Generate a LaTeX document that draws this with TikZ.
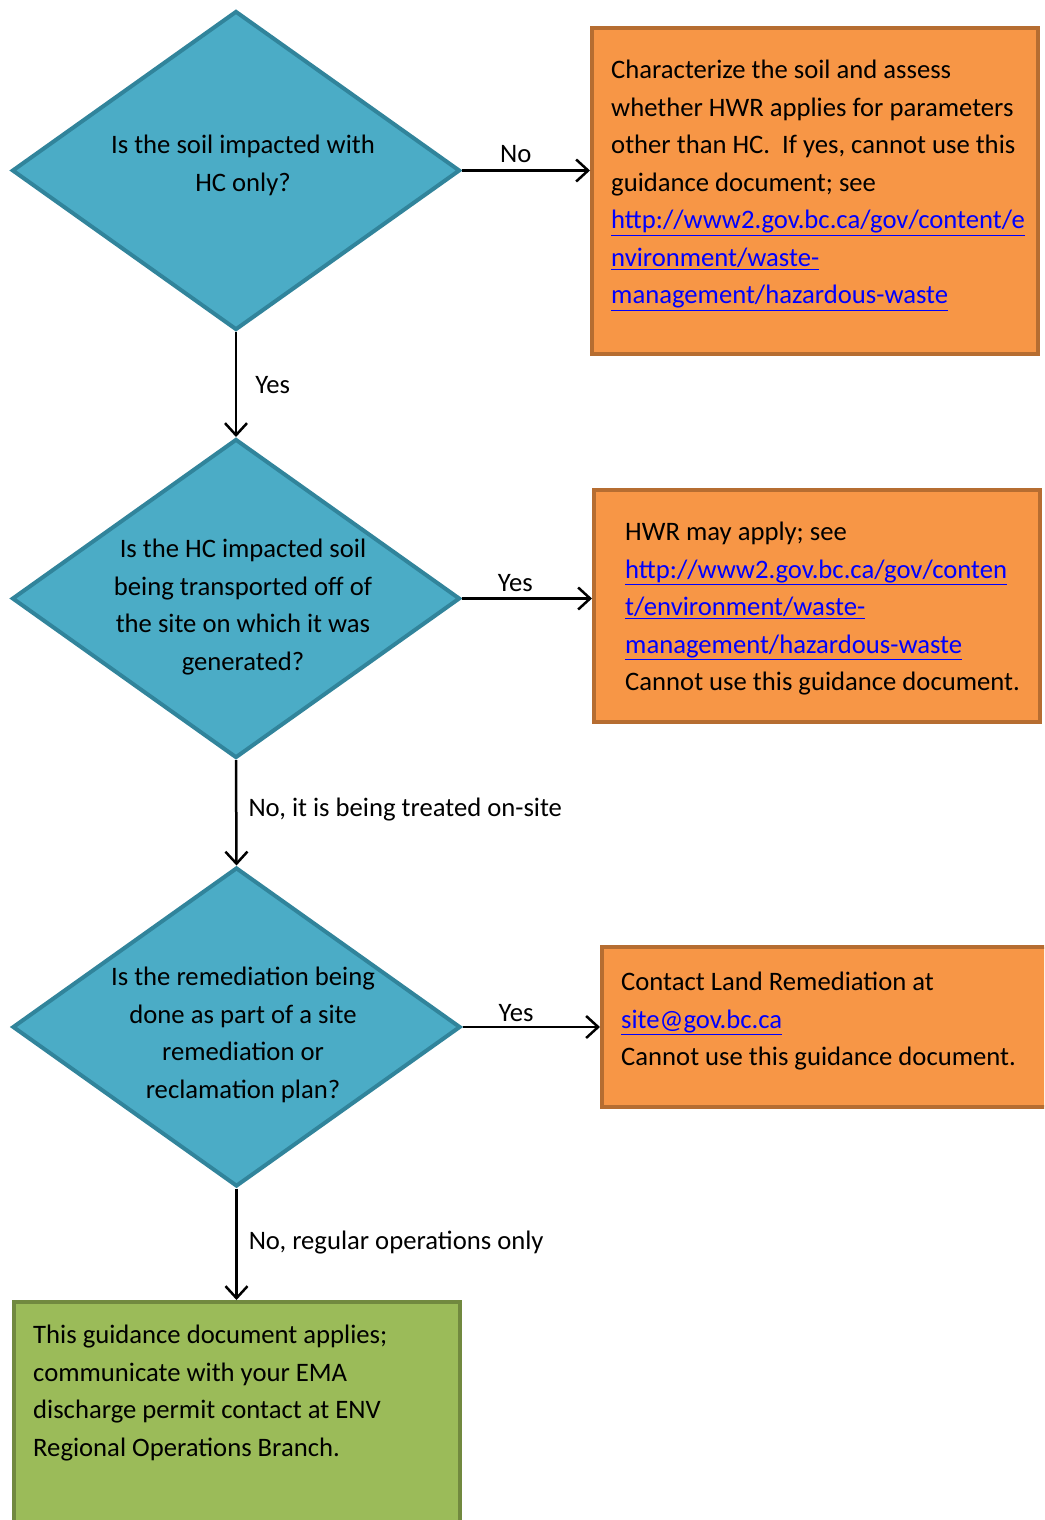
\documentclass[tikz,border=0pt]{standalone}
\usepackage{fontspec}
\setmainfont{Carlito}
\usetikzlibrary{shapes.geometric,arrows.meta}
\definecolor{qfill}{HTML}{4BACC6}
\definecolor{qline}{HTML}{31849B}
\definecolor{ofill}{HTML}{F79646}
\definecolor{oline}{HTML}{B66D31}
\definecolor{gfill}{HTML}{9BBB59}
\definecolor{gline}{HTML}{71893F}
\definecolor{linkblue}{HTML}{0000FF}
\newcommand{\lnk}[1]{\textcolor{linkblue}{\underline{#1}}}
\begin{document}
\begin{tikzpicture}[x=1pt,y=-1pt,>={Straight Barb[length=12pt,width=22pt]},
	font=\fontsize{26.67}{37.5}\selectfont, line join=miter,
	question/.style={diamond,draw=qline,fill=qfill,line width=4pt,inner sep=0pt,minimum width=448pt,minimum height=319pt},
	outbox/.style={rectangle,draw=oline,fill=ofill,line width=4pt,inner sep=0pt,minimum width=446pt},
	okbox/.style={rectangle,draw=gline,fill=gfill,line width=4pt,inner sep=0pt,minimum width=446pt},
	txt/.style={anchor=north west,inner sep=0pt,align=left},
	qtxt/.style={anchor=north,inner sep=0pt,align=center},
	flow/.style={->,line width=2.5pt},
	lbl/.style={inner sep=0pt}]
	\clip (0,0) rectangle (1044,1520);
	% questions
	\node[question] (q1) at (236,170.5) {};
	\node[qtxt] (q1t) at (243,135) {Is the soil impacted with\\HC only?};
	\node[question] (q2) at (236,598.5) {};
	\node[qtxt] (q2t) at (243,539) {Is the HC impacted soil\\being transported off of\\the site on which it was\\generated?};
	\node[question] (q3) at (236.5,1027) {};
	\node[qtxt] (q3t) at (243,967) {Is the remediation being\\done as part of a site\\remediation or\\reclamation plan?};
	% outcomes
	\node[outbox,minimum height=326pt] (a1) at (815,191) {};
	\node[txt] (a1t) at (611,60) {Characterize the soil and assess\\whether HWR applies for parameters\\other than HC.\ \ If yes, cannot use this\\guidance document; see\\\lnk{http://www2.gov.bc.ca/gov/content/e}\\\lnk{nvironment/waste-}\\\lnk{management/hazardous-waste}};
	\node[outbox,minimum height=232pt] (a2) at (817,606) {};
	\node[txt] (a2t) at (625,522) {HWR may apply; see\\\lnk{http://www2.gov.bc.ca/gov/conten}\\\lnk{t/environment/waste-}\\\lnk{management/hazardous-waste}\\Cannot use this guidance document.};
	\node[outbox,minimum height=160pt] (a3) at (825,1027) {};
	\node[txt] (a3t) at (621,972) {Contact Land Remediation at\\\lnk{site@gov.bc.ca}\\Cannot use this guidance document.};
	\node[okbox,minimum height=300pt] (g) at (237,1452) {};
	\node[txt] (gt) at (33,1325) {This guidance document applies;\\communicate with your EMA\\discharge permit contact at ENV\\Regional Operations Branch.};
	% arrows
	\draw[flow] (q1.east) -- (q1.east -| a1.west) node[lbl,pos=.42,anchor=mid,yshift=10pt] {No};
	\draw[flow] (q1.south) -- (q2.north) node[lbl,pos=.56,anchor=mid west,xshift=18pt] {Yes};
	\draw[flow] (q2.east) -- (q2.east -| a2.west) node[lbl,pos=.41,anchor=mid,yshift=9pt] {Yes};
	\draw[flow] (q2.south) -- (q3.north) node[lbl,pos=.51,anchor=mid west,xshift=11pt] {No, it is being treated on-site};
	\draw[flow] (q3.east) -- (q3.east -| a3.west) node[lbl,pos=.39,anchor=mid,yshift=8pt] {Yes};
	\draw[flow] (q3.south) -- (q3.south |- g.north) node[lbl,pos=.53,anchor=mid west,xshift=11pt] {No, regular operations only};
\end{tikzpicture}
\end{document}
